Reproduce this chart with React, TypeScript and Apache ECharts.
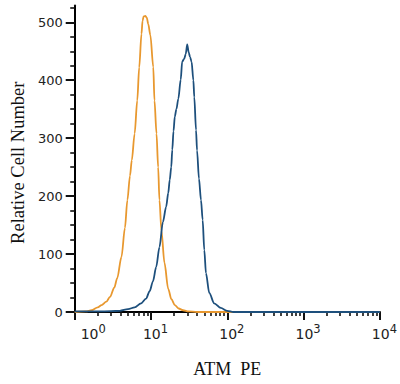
import React, { useEffect, useRef } from "react";
import * as echarts from "echarts";

// Orange histogram (control)
const orangeX = [1, 1.4, 1.67, 2.0, 2.25, 2.6, 2.9, 3.3, 3.6, 4.1, 4.55, 4.9, 5.3, 5.6, 6.1, 6.6, 7.0, 7.5, 7.75, 8.0, 8.4, 8.8, 9.2, 9.8, 10.7, 11.1, 11.8, 12.4, 12.9, 13.7, 15.0, 16.8, 18.5, 20.5, 23, 26.3, 31, 40, 10000];
const orangeY = [0, 1, 3, 8, 12, 18, 26, 42, 58, 95, 145, 193, 235, 262, 308, 365, 422, 480, 503, 510, 511, 508, 497, 478, 423, 365, 308, 250, 193, 140, 85, 40, 22, 12, 6, 3, 1, 0, 0];

// Blue histogram (ATM PE)
const blueX = [1, 2, 3, 3.9, 5.0, 6.1, 7.4, 8.6, 9.6, 10.6, 11.7, 12.9, 14.3, 15.8, 16.8, 17.6, 18.4, 19.0, 19.7, 20.5, 21.5, 22.8, 24.5, 25.6, 27.2, 28.5, 29.8, 31.2, 32.5, 34.0, 35.9, 36.9, 38.9, 40.1, 42.5, 45.2, 47.5, 49.9, 52.5, 58.0, 67.3, 82.1, 100, 120, 10000];
const blueY = [1, 1, 1.5, 2, 5, 8, 15, 23, 36, 53, 78, 112, 155, 182, 205, 228, 250, 280, 312, 337, 350, 368, 401, 432, 437, 445, 462, 448, 440, 432, 400, 371, 314, 279, 230, 193, 159, 107, 67, 33, 15, 7, 2, 0, 0];

const yMajorTicks = [0, 100, 200, 300, 400, 500];
const yMinorTicks = [25, 50, 75, 125, 150, 175, 225, 250, 275, 325, 350, 375, 425, 450, 475, 525];
const xDecades = [1, 10, 100, 1000, 10000];
const xMinorMultipliers = [2, 3, 4, 5, 6, 7, 8, 9];

const xTitle = "ATM  PE";
const yTitle = "Relative Cell Number";

const ORANGE = "#E8982F";
const BLUE = "#1D4F7C";

export default function App() {
  const ref = useRef<HTMLDivElement>(null);
  useEffect(() => {
    const chart = echarts.init(ref.current!, null, { renderer: "svg" });
    const minorX: number[] = [];
    xDecades.slice(0, -1).forEach((d) =>
      xMinorMultipliers.forEach((m) => minorX.push(Math.log10(d * m)))
    );
    const majorTickStyle = { color: "#111", width: 2 };
    const minorTickStyle = { color: "#111", width: 1.6 };
    chart.setOption({
      animation: false,
      backgroundColor: "#fff",
      grid: { left: 73, right: 20, top: 5.5, bottom: 72, containLabel: false },
      xAxis: [
        {
          type: "log",
          logBase: 10,
          min: 1,
          max: 10000,
          position: "bottom",
          axisLine: { show: true, onZero: false, lineStyle: { color: "#000", width: 2 } },
          axisTick: { show: true, length: 8, lineStyle: majorTickStyle },
          minorTick: { show: false },
          splitLine: { show: false },
          axisLabel: {
            margin: 11,
            color: "#222",
            padding: [0, 0, 0, 9],
            formatter: (v: number) => {
              const e = Math.round(Math.log10(v));
              return (e === 0 ? "{z|}" : "") + "{b|10}{s|" + e + "}";
            },
            rich: {
              z: { width: 28, height: 10 },
              b: { fontFamily: "DejaVu Sans", fontSize: 14, lineHeight: 14, padding: [7, 0, 0, 0], color: "#222" },
              s: { fontFamily: "DejaVu Sans", fontSize: 11.5, lineHeight: 11.5, verticalAlign: "top", color: "#222" },
            },
          },
          name: xTitle,
          nameLocation: "middle",
          nameGap: 48,
          nameTextStyle: { fontFamily: "Liberation Serif", fontSize: 18, color: "#111" },
        },
        {
          type: "value",
          min: 0,
          max: 4,
          position: "bottom",
          axisLine: { show: false },
          axisLabel: { show: false },
          splitLine: { show: false },
          axisTick: { show: true, length: 4, customValues: minorX, lineStyle: minorTickStyle },
        },
      ],
      yAxis: [
        {
          type: "value",
          min: 0,
          max: 529,
          interval: 100,
          position: "left",
          axisLine: { show: true, onZero: false, lineStyle: { color: "#000", width: 2 } },
          axisTick: { show: true, length: 9, customValues: yMajorTicks, lineStyle: majorTickStyle },
          splitLine: { show: false },
          axisLabel: {
            margin: 12,
            showMaxLabel: false,
            color: "#222",
            fontFamily: "DejaVu Sans",
            fontSize: 13,
          },
          name: yTitle,
          nameLocation: "middle",
          nameRotate: 90,
          nameGap: 47,
          nameTextStyle: { fontFamily: "Liberation Serif", fontSize: 18.5, color: "#111", padding: [0, 8, 0, 0] },
        },
        {
          type: "value",
          min: 0,
          max: 529,
          position: "left",
          axisLine: { show: false },
          axisLabel: { show: false },
          splitLine: { show: false },
          axisTick: { show: true, length: 4.5, customValues: yMinorTicks, lineStyle: minorTickStyle },
        },
      ],
      series: [
        {
          type: "line",
          xAxisIndex: 0,
          yAxisIndex: 0,
          data: orangeX.map((x, i) => [x, orangeY[i]]),
          showSymbol: false,
          symbol: "none",
          smooth: 0.3,
          smoothMonotone: "x",
          lineStyle: { color: ORANGE, width: 1.8 },
          z: 3,
        },
        {
          type: "line",
          xAxisIndex: 0,
          yAxisIndex: 0,
          data: blueX.map((x, i) => [x, blueY[i]]),
          showSymbol: false,
          symbol: "none",
          smooth: 0.3,
          smoothMonotone: "x",
          lineStyle: { color: BLUE, width: 1.8 },
          z: 4,
        },
      ],
    });
    return () => chart.dispose();
  }, []);
  return (
    <div
      ref={ref}
      style={{ position: "fixed", left: 0, top: 0, width: 400, height: 384 }}
    />
  );
}
